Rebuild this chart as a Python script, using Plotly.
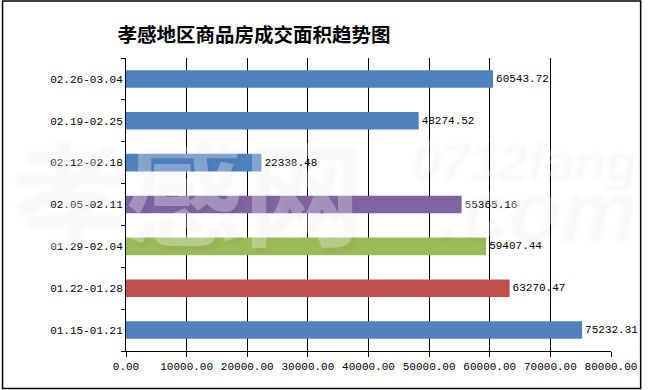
import plotly.graph_objects as go

categories = ["01.15-01.21", "01.22-01.28", "01.29-02.04", "02.05-02.11",
              "02.12-02.18", "02.19-02.25", "02.26-03.04"]
values = [75232.31, 63270.47, 59407.44, 55365.16, 22338.48, 48274.52, 60543.72]
bar_colors = ["#4F81BD", "#C0504D", "#9BBB59", "#8064A2", "#4F81BD", "#4F81BD", "#4F81BD"]
x_ticks = [0, 10000, 20000, 30000, 40000, 50000, 60000, 70000, 80000]
title_text = "孝感地区商品房成交面积趋势图"
watermark_parts = ["孝感网", "0712fang", ".com"]

W, H = 649, 390
L, R, T, B = 126, 32, 58, 39
pw, ph = W - L - R, H - T - B

mono = "Liberation Mono, DejaVu Sans Mono, monospace"

fig = go.Figure(go.Bar(
    y=categories, x=values, orientation="h",
    marker=dict(color=bar_colors, line=dict(width=0)),
    width=0.42,
    text=[f"{v:.2f}" for v in values], textposition="outside",
    textfont=dict(family=mono, size=11, color="black"),
    cliponaxis=False,
))

def px(xp):
    return (xp - L) / pw

def py(yp):
    return (H - B - yp) / ph

wm_color = "rgba(255,255,255,0.3)"
wm_shadow = "4px 4px 4px rgba(0,0,0,0.12)"

fig.update_layout(
    width=W, height=H,
    margin=dict(l=L, r=R, t=T, b=B),
    paper_bgcolor="white", plot_bgcolor="rgba(0,0,0,0)",
    showlegend=False,
    title=dict(text=title_text, x=254 / W, xanchor="center", y=1 - 35 / H, yanchor="middle",
               font=dict(family="Noto Sans CJK SC", size=19.5, color="black", weight="bold")),
    xaxis=dict(range=[0, 80000], tickvals=x_ticks, tickformat=".2f",
               showgrid=True, gridcolor="black", gridwidth=1,
               showline=True, linecolor="black", linewidth=1,
               ticks="outside", ticklen=5, tickcolor="black",
               tickfont=dict(family=mono, size=11, color="black"),
               zeroline=False, fixedrange=True),
    yaxis=dict(type="category", categoryorder="array", categoryarray=categories,
               showline=True, linecolor="black", linewidth=1,
               ticks="outside", ticklen=4, tickcolor="black", tickson="boundaries",
               tickfont=dict(family=mono, size=11, color="black"),
               showgrid=False, fixedrange=True),
    shapes=[dict(type="rect", xref="paper", yref="paper",
                 x0=px(1), x1=px(W - 2), y0=py(H - 1.5), y1=py(1),
                 line=dict(color="black", width=1.5), layer="above")],
    annotations=[
        dict(text=watermark_parts[0], xref="paper", yref="paper", x=px(185), y=py(185),
             xanchor="center", yanchor="middle",
             showarrow=False, font=dict(family="Noto Sans CJK SC", size=118, color=wm_color,
                                        weight="bold", shadow=wm_shadow)),
        dict(text=watermark_parts[1], xref="paper", yref="paper", x=px(525), y=py(158),
             xanchor="center", yanchor="middle",
             showarrow=False, font=dict(family="Liberation Sans", size=52, color=wm_color,
                                        weight="bold", style="italic", shadow=wm_shadow)),
        dict(text=watermark_parts[2], xref="paper", yref="paper", x=px(538), y=py(207),
             xanchor="center", yanchor="middle",
             showarrow=False, font=dict(family="Liberation Sans", size=85, color=wm_color,
                                        weight="bold", style="italic", shadow=wm_shadow)),
    ],
)

fig.write_html("out.html", config={"displayModeBar": False},
               post_script="document.body.style.margin='0';")
